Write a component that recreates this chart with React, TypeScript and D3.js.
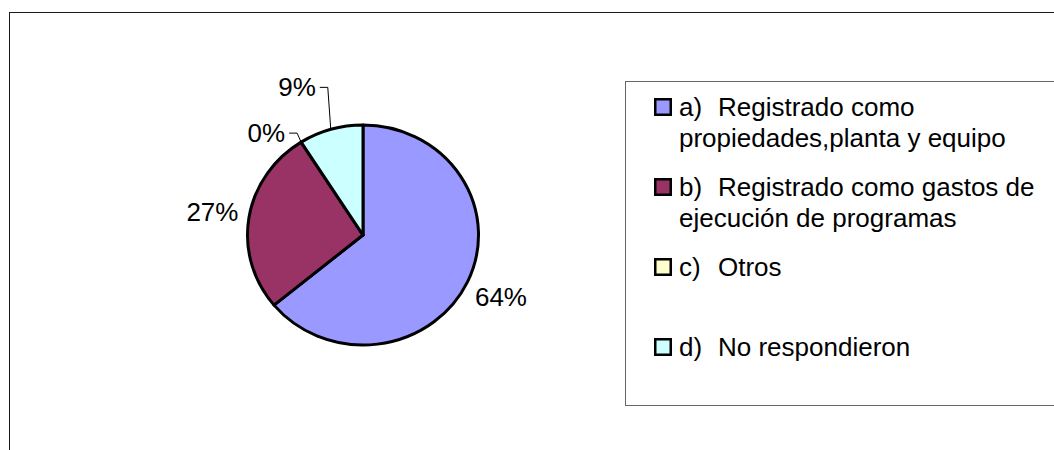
import React from "react";
import * as d3 from "d3";

// Survey answers: how the assets were recorded
const categories = ["a", "b", "c", "d"];
const legendLines = [
  ["a)", "Registrado como", "propiedades,planta y equipo"],
  ["b)", "Registrado como gastos de", "ejecución de programas"],
  ["c)", "Otros", ""],
  ["d)", "No respondieron", ""],
];
const shares = [64, 27, 0, 9];
const sliceColors = ["#9999FF", "#993366", "#FFFFCC", "#CCFFFF"];

const W = 1054;
const H = 450;
const FONT = "'Liberation Sans', Arial, Helvetica, sans-serif";
const FS = 26;

// pie geometry (Excel stretches the pie slightly horizontally)
const cx = 363;
const cy = 235;
const R = 110;
const stretchX = 1.05;

// labels that sit next to their slice vs. ones pulled out on a callout line
const outsideLabelFactor = 1.32;
const callouts: Record<string, { dx: number; dy: number }> = {
  c: { dx: -4, dy: -9 },
  d: { dx: -3, dy: -42 },
};

export default function App() {
  const pie = d3
    .pie<number>()
    .sort(null)
    .value((v) => v)
    .startAngle(0)
    .endAngle(2 * Math.PI);
  const arcs = pie(shares);
  const arcGen = d3.arc<d3.PieArcDatum<number>>().innerRadius(0).outerRadius(R);

  const ellipsePoint = (angle: number, f: number) => [
    cx + Math.sin(angle) * R * stretchX * f,
    cy - Math.cos(angle) * R * f,
  ];

  const legendX = 654;
  const textX = 679;
  const textX2 = 718;
  const legendTop = 116;
  const itemStep = 80;
  const lineStep = 31;

  return (
    <svg
      width={W}
      height={H}
      style={{ position: "absolute", left: 0, top: 0, background: "#fff" }}
      fontFamily={FONT}
    >
      <rect x={9.5} y={12.5} width={1200} height={600} fill="#fff" stroke="#1a1a1a" strokeWidth={1} />

      <g transform={`translate(${cx},${cy}) scale(${stretchX},1)`}>
        {arcs.map((a, i) => (
          <path
            key={categories[i]}
            d={arcGen(a) || ""}
            fill={sliceColors[i]}
            stroke="#000"
            strokeWidth={3}
            strokeLinejoin="round"
            vectorEffect="non-scaling-stroke"
          />
        ))}
      </g>

      {arcs.map((a, i) => {
        const mid = (a.startAngle + a.endAngle) / 2;
        const label = `${d3.format(".0f")(shares[i])}%`;
        const co = callouts[categories[i]];
        if (co) {
          const [ax, ay] = ellipsePoint(mid, 1);
          const ex = ax + co.dx;
          const ey = ay + co.dy;
          const hx = ex - 8;
          return (
            <g key={`lbl-${i}`}>
              <polyline
                points={`${hx},${ey} ${ex},${ey} ${ax},${ay}`}
                fill="none"
                stroke="#000"
                strokeWidth={1}
              />
              <text x={hx - 4} y={ey + 9} fontSize={FS} textAnchor="end" fill="#000">
                {label}
              </text>
            </g>
          );
        }
        const [lx, ly] = ellipsePoint(mid, outsideLabelFactor);
        return (
          <text
            key={`lbl-${i}`}
            x={lx}
            y={ly + 9}
            fontSize={FS}
            textAnchor="middle"
            fill="#000"
          >
            {label}
          </text>
        );
      })}

      <rect x={625.5} y={81.5} width={600} height={324} fill="#fff" stroke="#666" strokeWidth={1} />
      {legendLines.map((lines, i) => {
        const base = legendTop + i * itemStep;
        return (
          <g key={`leg-${i}`}>
            <rect
              x={legendX + 1.25}
              y={base - 18 + 1.25}
              width={15.5}
              height={15.5}
              fill={sliceColors[i]}
              stroke="#000"
              strokeWidth={2.5}
            />
            <text fontSize={FS} fill="#000">
              <tspan x={textX} y={base}>
                {lines[0]}
              </tspan>
              <tspan x={textX2} y={base}>
                {lines[1]}
              </tspan>
              {lines[2] ? (
                <tspan x={textX} y={base + lineStep}>
                  {lines[2]}
                </tspan>
              ) : null}
            </text>
          </g>
        );
      })}
    </svg>
  );
}
